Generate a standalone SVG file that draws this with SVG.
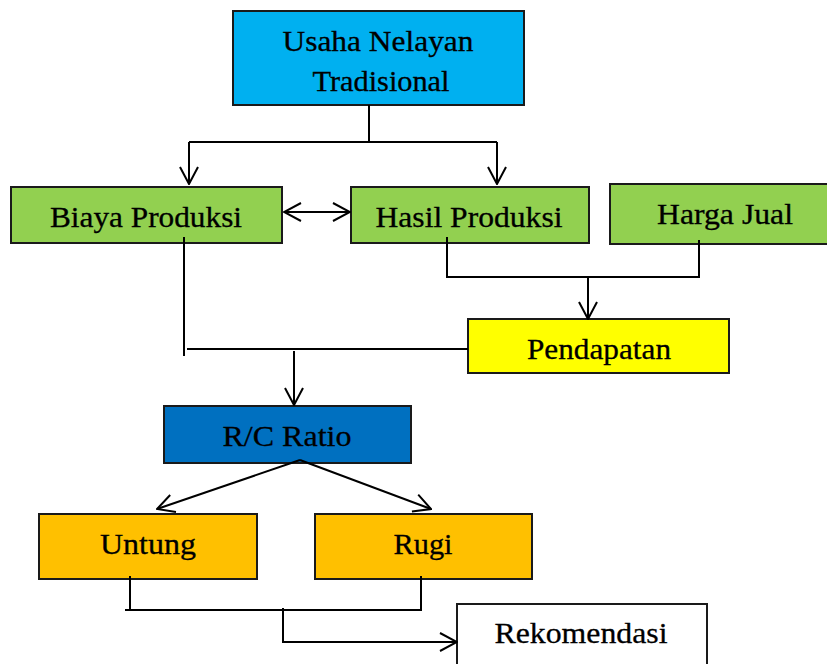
<svg xmlns="http://www.w3.org/2000/svg" width="827" height="664" viewBox="0 0 827 664">
<defs>
<marker id="arr" viewBox="0 0 20 20" refX="19" refY="10" markerWidth="20" markerHeight="20" markerUnits="userSpaceOnUse" orient="auto-start-reverse">
<path d="M2,1 L19,10 L2,19" fill="none" stroke="#000" stroke-width="2"/>
</marker>
</defs>
<style>
.box{stroke:#1a1a1a;stroke-width:2}
.t{font-family:'Liberation Serif','Times New Roman',serif;font-size:30px;fill:#000;stroke:#000;stroke-width:0.3;text-anchor:middle}
.c{fill:none;stroke:#000;stroke-width:2}
</style>
<rect width="827" height="664" fill="#fff"/>
<g id="usaha">
<rect class="box" x="233" y="11" width="291" height="94" fill="#00B0F0"/>
<text class="t" x="378" y="51" textLength="191" lengthAdjust="spacingAndGlyphs">Usaha Nelayan</text>
<text class="t" x="381" y="91" textLength="137" lengthAdjust="spacingAndGlyphs">Tradisional</text>
</g>
<g id="biaya">
<rect class="box" x="11" y="187" width="271" height="56" fill="#92D050"/>
<text class="t" x="146" y="227" textLength="192" lengthAdjust="spacingAndGlyphs">Biaya Produksi</text>
</g>
<g id="hasil">
<rect class="box" x="351" y="187" width="238" height="56" fill="#92D050"/>
<text class="t" x="469" y="227" textLength="187" lengthAdjust="spacingAndGlyphs">Hasil Produksi</text>
</g>
<g id="harga">
<rect class="box" x="610" y="184" width="225" height="60" fill="#92D050"/>
<text class="t" x="725" y="224" textLength="136" lengthAdjust="spacingAndGlyphs">Harga Jual</text>
</g>
<g id="pendapatan">
<rect class="box" x="468" y="319" width="261" height="54" fill="#FFFF00"/>
<text class="t" x="599" y="359" textLength="144" lengthAdjust="spacingAndGlyphs">Pendapatan</text>
</g>
<g id="rc">
<rect class="box" x="164" y="406" width="247" height="57" fill="#0070C0"/>
<text class="t" x="287" y="446" textLength="129" lengthAdjust="spacingAndGlyphs">R/C Ratio</text>
</g>
<g id="untung">
<rect class="box" x="39" y="514" width="218" height="65" fill="#FFC000"/>
<text class="t" x="148" y="554" textLength="96" lengthAdjust="spacingAndGlyphs">Untung</text>
</g>
<g id="rugi">
<rect class="box" x="315" y="514" width="217" height="65" fill="#FFC000"/>
<text class="t" x="423" y="554" textLength="59" lengthAdjust="spacingAndGlyphs">Rugi</text>
</g>
<g id="rekomendasi">
<rect class="box" x="457" y="604" width="250" height="70" fill="#FFFFFF"/>
<text class="t" x="581" y="643" textLength="173" lengthAdjust="spacingAndGlyphs">Rekomendasi</text>
</g>
<g id="connectors">
<path class="c" d="M369,105 V142 M189,142 H497"/>
<path class="c" d="M189,142 V184" marker-end="url(#arr)"/>
<path class="c" d="M497,142 V184" marker-end="url(#arr)"/>
<path class="c" d="M284,212 H350" marker-start="url(#arr)" marker-end="url(#arr)"/>
<path class="c" d="M184,237 V356 M187,349 H468"/>
<path class="c" d="M447,237 V277 H699 V240"/>
<path class="c" d="M588,277 V319" marker-end="url(#arr)"/>
<path class="c" d="M294,351 V405" marker-end="url(#arr)"/>
<path class="c" d="M300,460 L157,509" marker-end="url(#arr)"/>
<path class="c" d="M300,460 L431,509" marker-end="url(#arr)"/>
<path class="c" d="M130,576 V610 M125,610 H421 V576"/>
<path class="c" d="M283,608 V642 H457" marker-end="url(#arr)"/>
</g>
</svg>
